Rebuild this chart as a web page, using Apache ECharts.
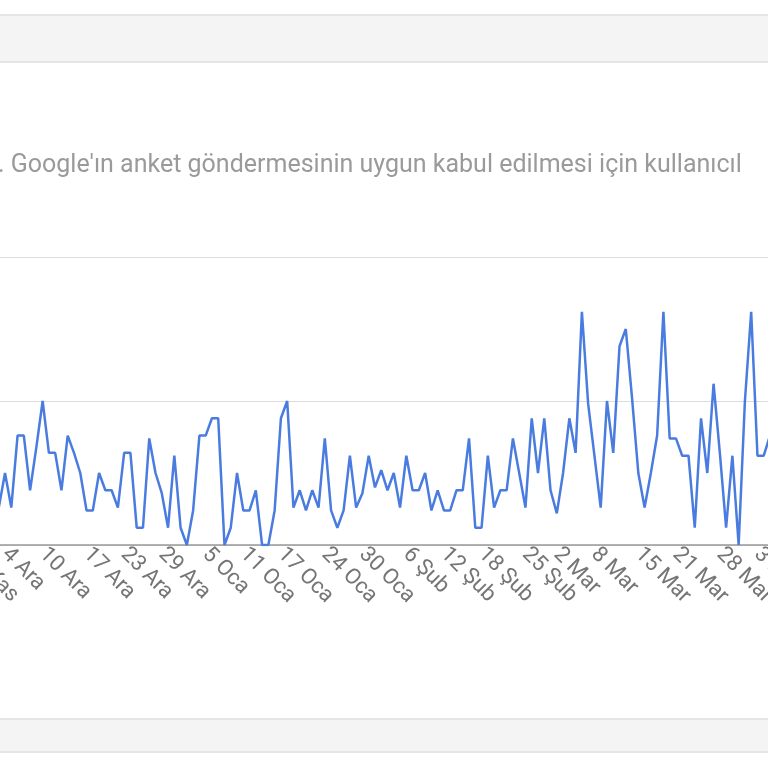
<!DOCTYPE html>
<html><head><meta charset="utf-8">
<script src="https://cdn.jsdelivr.net/npm/echarts@6/dist/echarts.min.js"></script>
<style>html,body{margin:0;padding:0;background:#fff}#c{width:768px;height:768px}</style>
</head><body><div id="c"></div>
<script>
const months = ['Kas','Ara','Oca','Şub','Mar','Nis'];
const startDate = [2018, 10, 28]; // 28 Kas
const tickLabels = ['28 Kas','4 Ara','10 Ara','17 Ara','23 Ara','29 Ara','5 Oca','11 Oca','17 Oca','24 Oca','30 Oca','6 Şub','12 Şub','18 Şub','25 Şub','2 Mar','8 Mar','15 Mar','21 Mar','28 Mar','3 Nis'];
const values = [
 25,19,31,19,13,
 13,25,13,38,38,19,34,50,32,32,19,38,32,25,12,12,25,19,19,13,32,32,6,6,37,25,18,6,31,6,0,12,38,38,44,44,0,6,25,12,12,19,0,
 0,12,44,50,13,19,12,19,13,37,12,6,12,31,13,18,31,20,26,19,25,13,31,19,19,25,12,19,12,12,19,19,37,6,6,31,13,19,19,
 37,25,13,44,25,44,19,11,25,44,32,81,49,31,13,50,32,69,75,51,25,13,25,38,81,37,37,31,31,6,44,25,56,32,6,31,0,50,81,31,31,38
];
const monthIdx = {10:0,11:1,0:2,1:3,2:4,3:5};
const categories = [];
{
  const d = new Date(startDate[0], startDate[1], startDate[2]);
  for (let i = 0; i < values.length; i++) {
    categories.push(d.getDate() + ' ' + months[monthIdx[d.getMonth()]]);
    d.setDate(d.getDate() + 1);
  }
}
const chart = echarts.init(document.getElementById('c'));
chart.setOption({
  animation:false,
  graphic:[
    {type:'rect',shape:{x:-2,y:15,width:772,height:47},style:{fill:'#f4f4f4',stroke:'#dedede',lineWidth:1.5}},
    {type:'rect',shape:{x:-2,y:719,width:772,height:33},style:{fill:'#f4f4f4',stroke:'#dedede',lineWidth:1.5}},
    {type:'text',left:-9,top:153,style:{text:"r. Google'ın anket göndermesinin uygun kabul edilmesi için kullanıcıl",fill:'#9a9a9a',font:'25px Roboto'}}
  ],
  grid:{left:-32.6,right:-2,top:257,bottom:223,outerBoundsMode:'none',containLabel:false},
  xAxis:{type:'category',data:categories,boundaryGap:false,
    axisLine:{lineStyle:{color:'#999',width:1.5}},axisTick:{show:false},
    axisLabel:{interval:(i,v)=>tickLabels.includes(v),rotate:-45,color:'#757575',fontSize:22,fontFamily:'Roboto',margin:6}},
  yAxis:{type:'value',min:0,max:100,interval:50,axisLabel:{show:false},axisLine:{show:false},axisTick:{show:false},
    splitLine:{lineStyle:{color:'#dcdcdc',width:1}}},
  series:[{type:'line',data:values,symbol:'none',lineStyle:{color:'#4a7ce0',width:2.5}}]
});
</script></body></html>
